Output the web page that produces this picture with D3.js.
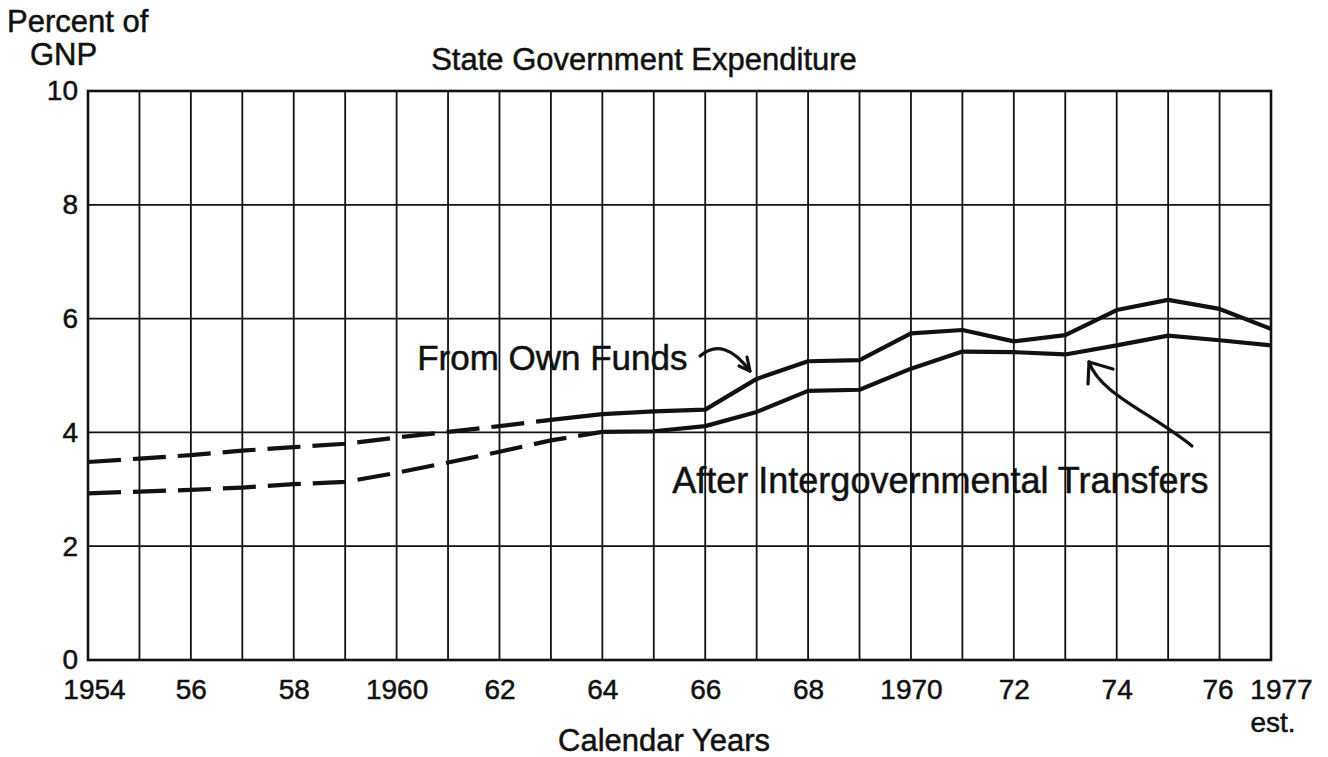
<!DOCTYPE html>
<html>
<head>
<meta charset="utf-8">
<script src="https://cdn.jsdelivr.net/npm/d3@7/dist/d3.min.js"></script>
<style>
    body { margin: 0; background: #fff; }
    svg text { font-family: "Liberation Sans", Arial, Helvetica, sans-serif; fill: #111; stroke: #111; stroke-width: 0.5px; }
</style>
</head>
<body>
<svg id="chart" width="1328" height="757"></svg>
<script>
// Données (pourcentage du PNB)
const years = [1954, 1955, 1956, 1957, 1958, 1959, 1960, 1961, 1962, 1963, 1964, 1965,
               1966, 1967, 1968, 1969, 1970, 1971, 1972, 1973, 1974, 1975, 1976, 1977];
const ownFunds = [3.48, 3.54, 3.60, 3.68, 3.74, 3.80, 3.91, 4.01, 4.11, 4.22, 4.32, 4.37,
                  4.40, 4.94, 5.25, 5.27, 5.74, 5.80, 5.60, 5.71, 6.15, 6.33, 6.17, 5.82];
const afterTransfers = [2.93, 2.96, 2.99, 3.03, 3.09, 3.13, 3.29, 3.47, 3.66, 3.86, 4.01, 4.02,
                        4.11, 4.36, 4.73, 4.75, 5.12, 5.42, 5.41, 5.37, 5.53, 5.70, 5.62, 5.53];
// dernière année en pointillés pour chaque série
const ownFundsDashedUntil = 1963;
const transfersDashedUntil = 1964;

const xTickYears = [1954, 1956, 1958, 1960, 1962, 1964, 1966, 1968, 1970, 1972, 1974, 1976, 1977];
const xTickLabels = ["1954", "56", "58", "1960", "62", "64", "66", "68", "1970", "72", "74", "76", "1977"];
const yTicks = [0, 2, 4, 6, 8, 10];

const margin = { top: 91, right: 57, bottom: 97, left: 88 };
const W = 1328, H = 757;
const width = W - margin.left - margin.right;
const height = H - margin.top - margin.bottom;

const svg = d3.select("#chart");
const g = svg.append("g").attr("transform", `translate(${margin.left},${margin.top})`);

const x = d3.scaleLinear().domain([1954, 1977]).range([0, width]);
const y = d3.scaleLinear().domain([0, 10]).range([height, 0]);

// Grille verticale (une ligne par année)
g.append("g")
    .selectAll("line")
    .data(years)
    .enter().append("line")
    .attr("x1", d => x(d)).attr("x2", d => x(d))
    .attr("y1", 0).attr("y2", height)
    .attr("stroke", "#111").attr("stroke-width", 1.8);

// Grille horizontale
g.append("g")
    .selectAll("line")
    .data(yTicks)
    .enter().append("line")
    .attr("x1", 0).attr("x2", width)
    .attr("y1", d => y(d)).attr("y2", d => y(d))
    .attr("stroke", "#111").attr("stroke-width", 1.8);

// Cadre
g.append("rect")
    .attr("width", width).attr("height", height)
    .attr("fill", "none").attr("stroke", "#111").attr("stroke-width", 2.6);

// Axe Y
const yAxis = g.append("g")
    .call(d3.axisLeft(y).tickValues(yTicks).tickSize(0).tickPadding(10));
yAxis.select(".domain").remove();
yAxis.selectAll("text")
    .attr("font-size", 28)
    .attr("font-family", "Liberation Sans, Arial, sans-serif")
    .attr("fill", "#111");

// Axe X
const xAxis = g.append("g")
    .attr("transform", `translate(0,${height})`)
    .call(d3.axisBottom(x).tickValues(xTickYears).tickSize(0).tickPadding(19)
        .tickFormat((d, i) => xTickLabels[i]));
xAxis.select(".domain").remove();
xAxis.selectAll("text")
    .attr("font-size", 28)
    .attr("font-family", "Liberation Sans, Arial, sans-serif")
    .attr("fill", "#111")
    .attr("dx", (d, i) => i === 0 ? 6 : (i === 11 ? -2 : (i === 12 ? 10 : 0)));

// "est." sous 1977
g.append("text")
    .attr("x", x(1977) + 2).attr("y", height + 72)
    .attr("text-anchor", "middle").attr("font-size", 28)
    .text("est.");

// Séries
const pts = arr => years.map((yr, i) => ({ year: yr, value: arr[i] }));
const line = d3.line().x(d => x(d.year)).y(d => y(d.value));

function drawSeries(values, cutoff) {
    const data = pts(values);
    g.append("path")
        .datum(data.filter(d => d.year <= cutoff))
        .attr("fill", "none").attr("stroke", "#111")
        .attr("stroke-width", 4.2).attr("stroke-dasharray", "33,12")
        .attr("d", line);
    g.append("path")
        .datum(data.filter(d => d.year >= cutoff))
        .attr("fill", "none").attr("stroke", "#111")
        .attr("stroke-width", 4.2).attr("stroke-linejoin", "round")
        .attr("d", line);
}
drawSeries(ownFunds, ownFundsDashedUntil);
drawSeries(afterTransfers, transfersDashedUntil);

// Annotations
g.append("text")
    .attr("x", x(1960.4)).attr("y", y(5.1))
    .attr("font-size", 35)
    .text("From Own Funds");

g.append("text")
    .attr("x", x(1965.36)).attr("y", y(2.94))
    .attr("font-size", 36)
    .text("After Intergovernmental Transfers");

const ann = svg.append("g")
    .attr("fill", "none").attr("stroke", "#111")
    .attr("stroke-width", 3.2).attr("stroke-linecap", "round");

// flèche courbe vers "From Own Funds"
ann.append("path").attr("d", "M700,356 Q724,336 750,371");
ann.append("path").attr("d", "M750,371 L747,357 M750,371 L739,366");

// flèche vers "After Intergovernmental Transfers"
ann.append("path").attr("d", "M1192,446 C1150,412 1100,394 1089,362");
ann.append("path").attr("d", "M1089,362 L1088,384 M1089,362 L1113,369");

// Titres
svg.append("text")
    .attr("x", 644).attr("y", 70)
    .attr("text-anchor", "middle").attr("font-size", 31)
    .text("State Government Expenditure");

svg.append("text")
    .attr("x", 7).attr("y", 32).attr("font-size", 31)
    .text("Percent of");
svg.append("text")
    .attr("x", 30).attr("y", 65).attr("font-size", 31)
    .text("GNP");

svg.append("text")
    .attr("x", 664).attr("y", 751)
    .attr("text-anchor", "middle").attr("font-size", 31)
    .text("Calendar Years");
</script>
</body>
</html>
